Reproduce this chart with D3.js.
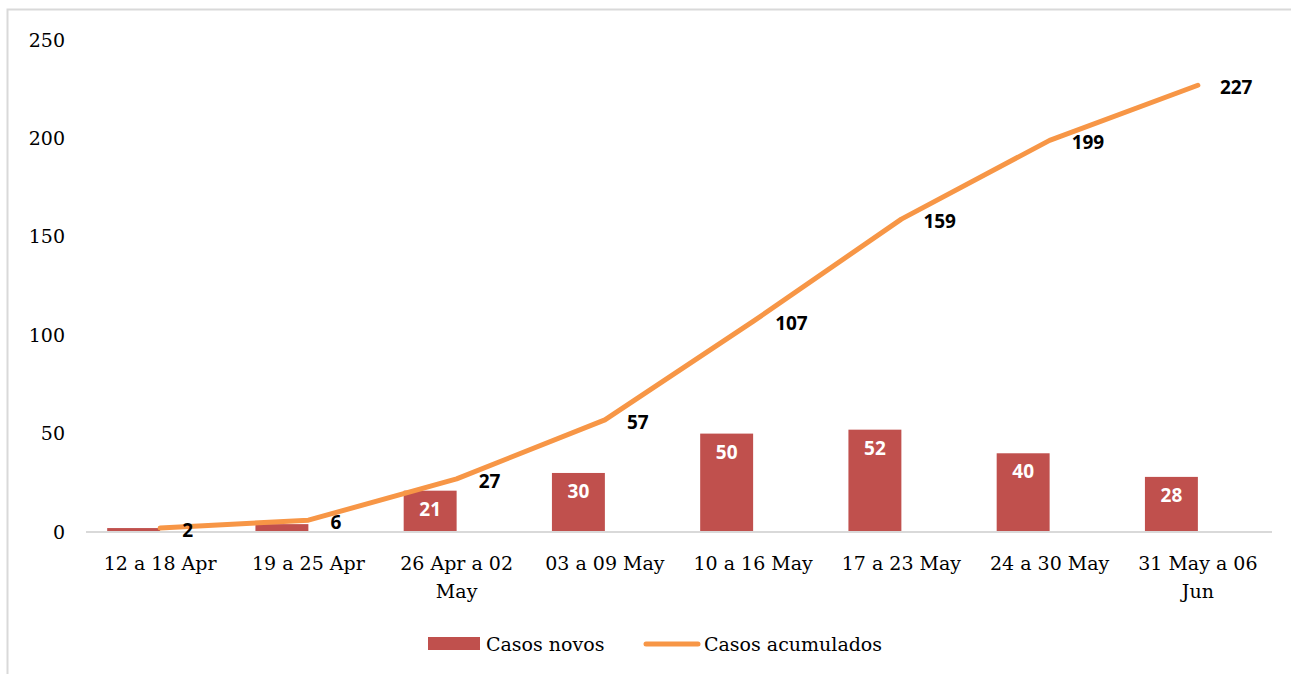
<!DOCTYPE html>
<html>
<head>
<meta charset="utf-8">
<script src="https://cdn.jsdelivr.net/npm/d3@7"></script>
<style>
  body { margin: 0; background: #fff; }
  svg { display: block; }
</style>
</head>
<body>
<div id="chart"></div>
<script>
const categories = ["12 a 18 Apr", "19 a 25 Apr", "26 Apr a 02 May", "03 a 09 May",
                    "10 a 16 May", "17 a 23 May", "24 a 30 May", "31 May a 06 Jun"];
const casosNovos = [2, 4, 21, 30, 50, 52, 40, 28];
const casosAcumulados = [2, 6, 27, 57, 107, 159, 199, 227];
const yTicks = [0, 50, 100, 150, 200, 250];
const seriesNames = ["Casos novos", "Casos acumulados"];

const W = 1291, H = 674;
const margin = {left: 86, right: 19, top: 40, bottom: 142};
const barColor = "#c0504d", lineColor = "#f79646";
const serif = "'DejaVu Serif', serif";
const sans = "'Open Sans', sans-serif";

const svg = d3.select("#chart").append("svg").attr("width", W).attr("height", H);

/* outer frame of the chart area */
svg.append("rect").attr("x", 7.5).attr("y", 9.5).attr("width", W + 10).attr("height", H + 10)
    .attr("fill", "none").attr("stroke", "#d9d9d9").attr("stroke-width", 2);

const x = d3.scaleBand().domain(categories).range([margin.left, W - margin.right]);
const y = d3.scaleLinear().domain([0, 250]).range([H - margin.bottom, margin.top]);

/* bars sit in the left half of a two-slot cluster, like the excel original */
const barW = x.bandwidth() / 2.8;
const cx = d => x(d) + x.bandwidth() / 2;

// y axis labels only, no grid
const yAxis = d3.axisLeft(y).tickValues(yTicks).tickSize(0).tickPadding(21);
svg.append("g").attr("transform", "translate(" + margin.left + ",0)").call(yAxis)
    .call(g => g.select(".domain").remove())
    .selectAll("text").attr("font-family", serif).attr("font-size", 19).attr("fill", "#000");

svg.selectAll(".bar")
    .data(categories)
    .enter().append("rect")
    .attr("class", "bar")
    .attr("x", d => cx(d) - barW)
    .attr("y", (d, i) => y(casosNovos[i]))
    .attr("width", barW)
    .attr("height", (d, i) => y(0) - y(casosNovos[i]))
    .attr("fill", barColor);

// baseline
svg.append("line").attr("x1", margin.left).attr("x2", W - margin.right)
    .attr("y1", y(0)).attr("y2", y(0)).attr("stroke", "#d9d9d9").attr("stroke-width", 2);

// x axis labels, wrapped the way the original wraps them
const xLabels = svg.append("g").selectAll("text")
    .data(categories)
    .enter().append("text")
    .attr("x", d => cx(d))
    .attr("y", y(0) + 38)
    .attr("text-anchor", "middle")
    .attr("font-family", serif).attr("font-size", 19).attr("fill", "#000");
xLabels.each(function(d) {
    let t = d3.select(this);
    let words = d.split(" ");
    let lines = words.length > 4 ? [words.slice(0, 4).join(" "), words.slice(4).join(" ")] : [d];
    lines.forEach((l, k) => t.append("tspan").attr("x", cx(d)).attr("dy", k ? 28 : 0).text(l));
});

const line = d3.line()
    .x((d, i) => cx(categories[i]))
    .y(d => y(d));
svg.append("path").datum(casosAcumulados)
    .attr("d", line)
    .attr("fill", "none").attr("stroke", lineColor).attr("stroke-width", 5)
    .attr("stroke-linecap", "round").attr("stroke-linejoin", "round");

// bar value labels (the two tiny bars have none)
svg.selectAll(".barlabel")
    .data(categories.filter((d, i) => casosNovos[i] >= 10))
    .enter().append("text")
    .attr("x", d => cx(d) - barW / 2)
    .attr("y", d => y(casosNovos[categories.indexOf(d)]) + 25)
    .attr("text-anchor", "middle")
    .attr("font-family", sans).attr("font-weight", "bold").attr("font-size", 19).attr("fill", "#fff")
    .text(d => casosNovos[categories.indexOf(d)]);

// line value labels to the right of each point
svg.selectAll(".linelabel")
    .data(categories)
    .enter().append("text")
    .attr("x", d => cx(d) + 22)
    .attr("y", (d, i) => y(casosAcumulados[i]) + 9)
    .attr("font-family", sans).attr("font-weight", "bold").attr("font-size", 19).attr("fill", "#000")
    .text((d, i) => casosAcumulados[i]);

// legend
const leg = svg.append("g");
leg.append("rect").attr("x", 428).attr("y", 637).attr("width", 52).attr("height", 13).attr("fill", barColor);
leg.append("text").attr("x", 486).attr("y", 651).attr("font-family", serif).attr("font-size", 19)
    .text(seriesNames[0]);
leg.append("line").attr("x1", 646).attr("x2", 698).attr("y1", 644).attr("y2", 644)
    .attr("stroke", lineColor).attr("stroke-width", 5).attr("stroke-linecap", "round");
leg.append("text").attr("x", 704).attr("y", 651).attr("font-family", serif).attr("font-size", 19)
    .text(seriesNames[1]);
</script>
</body>
</html>
